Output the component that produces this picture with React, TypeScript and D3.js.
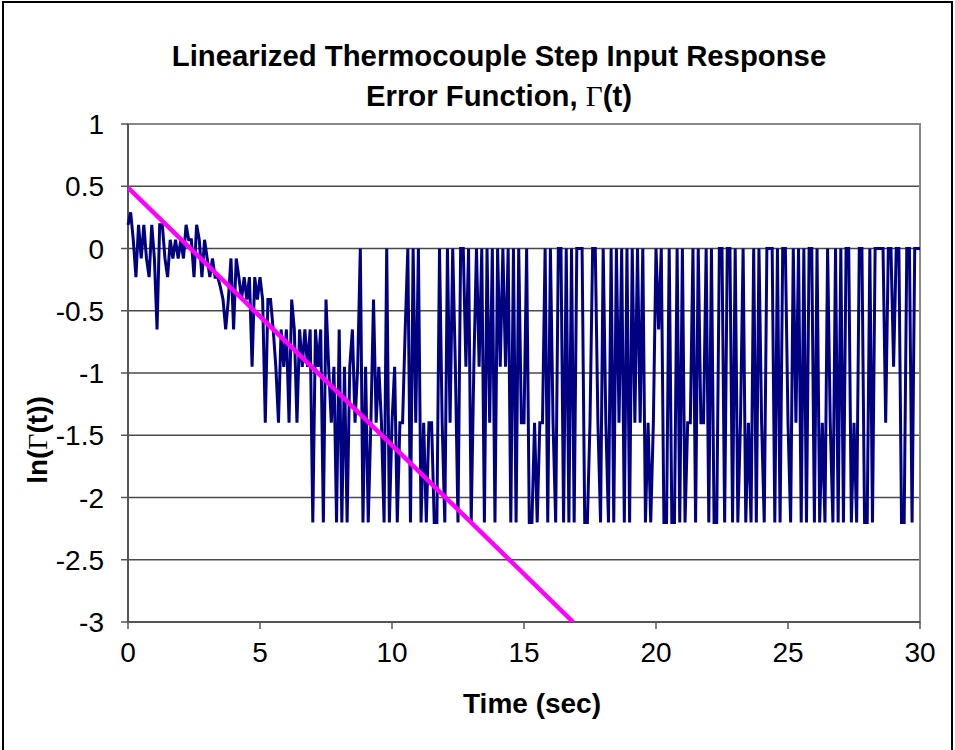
import React from "react";
import * as d3 from "d3";

// Sampled time step (seconds) of the recorded signal
const timeStep = 0.1;

// ln(Γ(t)) readings, t = 0.0 … 9.9 s
const valuesA: number[] = [
  0.19, 0.29, 0.07, -0.23, 0.19, -0.08, 0.19, -0.08, -0.23, 0.19,
  -0.08, -0.65, 0.19, 0.19, -0.08, -0.23, 0.07, -0.08, 0.07, -0.08,
  0.07, -0.08, 0.19, 0.07, 0.07, -0.23, 0.19, 0.07, -0.23, 0.07,
  -0.08, -0.23, -0.08, -0.23, -0.23, -0.31, -0.41, -0.65, -0.41, -0.08,
  -0.65, -0.08, -0.23, -0.41, -0.23, -0.41, -0.23, -0.95, -0.23, -0.41,
  -0.23, -0.41, -1.4, -0.41, -0.41, -0.65, -0.95, -1.4, -0.65, -0.95,
  -0.65, -1.4, -0.41, -0.65, -1.4, -0.65, -0.95, -0.65, -0.95, -0.65,
  -2.2, -0.65, -0.95, -0.65, -2.2, -0.41, -0.95, -1.4, -0.95, -2.2,
  -0.65, -2.2, -0.95, -2.2, -0.95, -0.65, -1.4, -0.95, 0, -2.2,
  -0.95, -2.2, -1.4, -0.41, -1.4, -0.95, -1.4, -2.2, 0, -2.2,
];

// t = 10.0 … 19.9 s
const valuesB: number[] = [
  -1.4, -0.95, -2.2, -1.4, -1.4, -0.65, 0, -2.2, 0, -1.4,
  0, -2.2, -1.4, -2.2, -1.4, -1.4, -2.2, -2.2, 0, -1.4,
  -2.2, 0, -1.4, 0, -0.95, -2.2, 0, 0, -0.95, 0,
  -2.2, -0.95, 0, -0.95, 0, -2.2, 0, -1.4, 0, -2.2,
  0, -0.95, 0, -0.95, 0, -2.2, 0, -2.2, 0, -1.4,
  -1.4, 0, -2.2, -2.2, -1.4, -2.2, -1.4, -1.4, 0, -2.2,
  0, -1.4, -2.2, 0, 0, -2.2, 0, -2.2, 0, -2.2,
  0, 0, 0, -2.2, -2.2, -1.4, 0, 0, -1.4, -2.2,
  0, -1.4, -2.2, 0, -2.2, 0, -1.4, 0, -2.2, 0,
  -2.2, 0, -1.4, 0, -1.4, 0, -2.2, -1.4, -2.2, -1.4,
];

// t = 20.0 … 30.0 s
const valuesC: number[] = [
  0, -0.65, 0, -2.2, -2.2, 0, -2.2, -2.2, 0, -2.2,
  0, -2.2, -1.4, -1.4, 0, -2.2, 0, -1.4, -1.4, 0,
  -2.2, 0, -2.2, -2.2, 0, 0, -2.2, 0, 0, -2.2,
  0, -2.2, -1.4, 0, -2.2, -1.4, -2.2, 0, -2.2, 0,
  -1.4, -2.2, 0, 0, 0, -2.2, 0, -2.2, 0, 0,
  -1.4, -2.2, 0, -1.4, 0, -2.2, 0, -2.2, 0, 0,
  -2.2, 0, -2.2, -1.4, -2.2, 0, -1.4, -2.2, 0, -2.2,
  0, -2.2, 0, 0, -2.2, -1.4, -2.2, 0, 0, -2.2,
  -2.2, 0, -2.2, 0, 0, 0, 0, -1.4, 0, 0,
  -0.95, 0, 0, -2.2, -2.2, 0, 0, -2.2, 0, 0,
  0,
];

// Linear fit (magenta) end points
const fitTimes = [0, 16.86];
const fitValues = [0.49, -3];

const xTicks = [0, 5, 10, 15, 20, 25, 30];
const yTicks = [1, 0.5, 0, -0.5, -1, -1.5, -2, -2.5, -3];

const W = 955;
const H = 750;
const plot = { left: 128, right: 920, top: 124, bottom: 622 };
const FONT = "'Liberation Sans', Arial, sans-serif";

export default function App() {
  const x = d3.scaleLinear().domain([0, 30]).range([plot.left, plot.right]);
  const y = d3.scaleLinear().domain([-3, 1]).range([plot.bottom, plot.top]);

  const all = [...valuesA, ...valuesB, ...valuesC];
  const series = all.map((v, i) => ({ t: Math.round(i * timeStep * 10) / 10, v }));

  const line = d3
    .line<{ t: number; v: number }>()
    .x((d) => x(d.t))
    .y((d) => y(d.v));

  const fit = fitTimes.map((t, i) => ({ t, v: fitValues[i] }));

  return (
    <svg
      width={W}
      height={H}
      style={{ position: "absolute", left: 0, top: 0, background: "#fff" }}
      fontFamily={FONT}
    >
      <rect x={0} y={0} width={W} height={H} fill="#fff" />
      <rect x={3} y={2} width={949} height={800} fill="none" stroke="#000" strokeWidth={2} />

      {/* gridlines */}
      {yTicks.map((t) => (
        <line
          key={"g" + t}
          x1={plot.left}
          x2={plot.right}
          y1={y(t)}
          y2={y(t)}
          stroke="#4a4a4a"
          strokeWidth={1.5}
        />
      ))}
      {/* plot border */}
      <rect
        x={plot.left}
        y={plot.top}
        width={plot.right - plot.left}
        height={plot.bottom - plot.top}
        fill="none"
        stroke="#888"
        strokeWidth={2}
      />
      {/* axes lines */}
      <line x1={plot.left} x2={plot.left} y1={plot.top} y2={plot.bottom} stroke="#555" strokeWidth={2} />
      <line x1={plot.left} x2={plot.right} y1={plot.bottom} y2={plot.bottom} stroke="#555" strokeWidth={2} />

      {/* ticks */}
      {xTicks.map((t) => (
        <line key={"xt" + t} x1={x(t)} x2={x(t)} y1={plot.bottom} y2={plot.bottom + 7} stroke="#555" strokeWidth={1.5} />
      ))}
      {yTicks.map((t) => (
        <line key={"yt" + t} x1={plot.left - 7} x2={plot.left} y1={y(t)} y2={y(t)} stroke="#555" strokeWidth={1.5} />
      ))}

      {/* data */}
      <defs>
        <clipPath id="clip">
          <rect x={plot.left} y={plot.top} width={plot.right - plot.left} height={plot.bottom - plot.top} />
        </clipPath>
      </defs>
      <path d={line(series) || ""} fill="none" stroke="#000080" strokeWidth={3} strokeLinejoin="miter" />
      <path d={line(fit) || ""} fill="none" stroke="#ff00ff" strokeWidth={4.5} clipPath="url(#clip)" />

      {/* tick labels */}
      {xTicks.map((t) => (
        <text key={"xl" + t} x={x(t)} y={662} fontSize={28} textAnchor="middle" fill="#000">
          {t}
        </text>
      ))}
      {yTicks.map((t) => (
        <text key={"yl" + t} x={104} y={y(t) + 10} fontSize={28} textAnchor="end" fill="#000">
          {t}
        </text>
      ))}

      {/* titles */}
      <text x={499} y={66} fontSize={29.3} fontWeight="bold" textAnchor="middle" fill="#000">
        Linearized Thermocouple Step Input Response
      </text>
      <text x={499} y={106} fontSize={29.3} fontWeight="bold" textAnchor="middle" fill="#000">
        Error Function,{" "}
        <tspan fontFamily="'Liberation Serif', 'Times New Roman', serif" fontWeight="normal">Γ</tspan>
        (t)
      </text>
      <text x={532} y={713} fontSize={28} fontWeight="bold" textAnchor="middle" fill="#000">
        Time (sec)
      </text>
      <text
        transform={`translate(47, 440) rotate(-90)`}
        fontSize={28}
        fontWeight="bold"
        textAnchor="middle"
        fill="#000"
      >
        ln(<tspan fontFamily="'Liberation Serif', 'Times New Roman', serif" fontWeight="normal">Γ</tspan>(t))
      </text>
    </svg>
  );
}
